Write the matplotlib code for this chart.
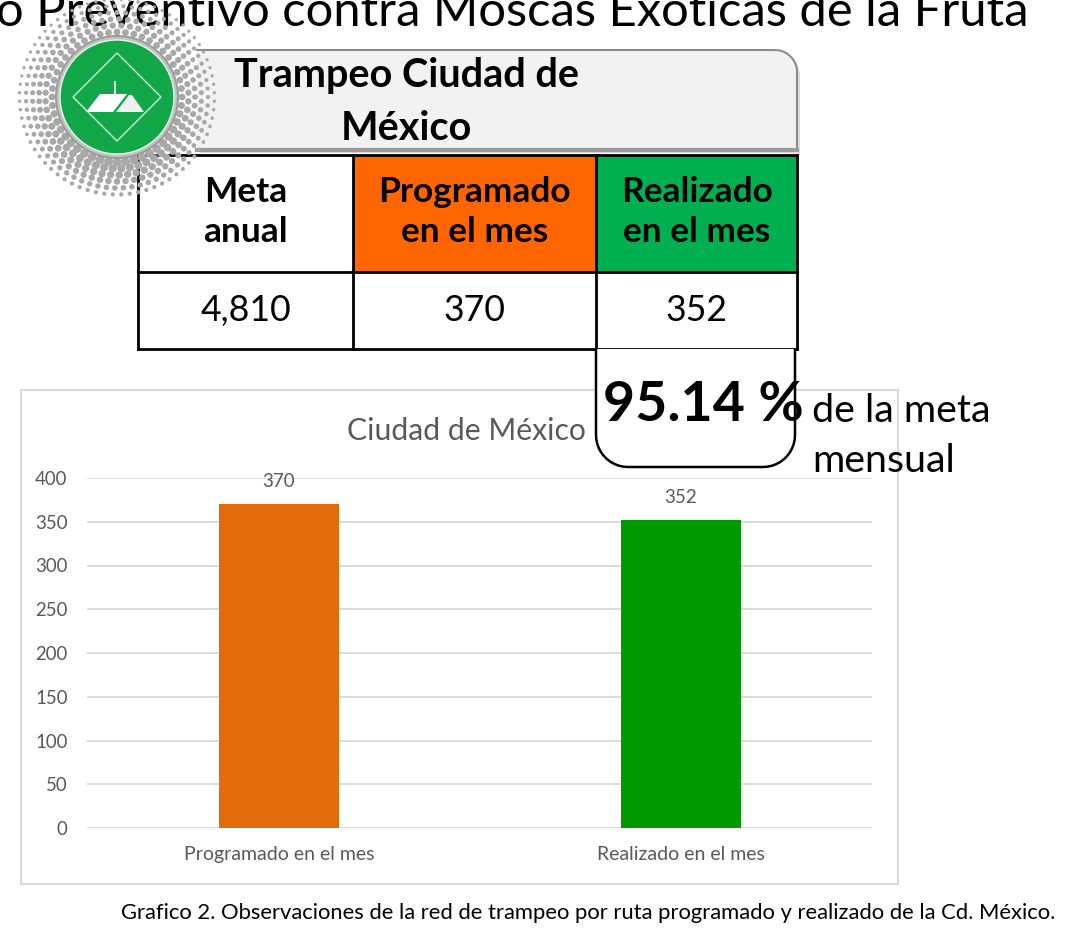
import numpy as np
import matplotlib
matplotlib.use("Agg")
import matplotlib.pyplot as plt
import matplotlib.patches as patches

plt.rcParams['font.family'] = ['Lato', 'DejaVu Sans']

# data
categories = ["Programado en el mes", "Realizado en el mes"]
values = [370, 352]
bar_colors = ["#e36c0a", "#009900"]
yticks = [0, 50, 100, 150, 200, 250, 300, 350, 400]

table_headers = ["Meta\nanual", "Programado\nen el mes", "Realizado\nen el mes"]
table_values = [4810, 370, 352]
header_colors = ["white", "#ff6600", "#00b050"]

page_title = "o Preventivo contra Moscas Exóticas de la Fruta"
box_title = "Trampeo Ciudad de\nMéxico"
chart_title = "Ciudad de México"
caption = "Grafico 2. Observaciones de la red de trampeo por ruta programado y realizado de la Cd. México."

W, H = 1082, 936
fig = plt.figure(figsize=(W / 100, H / 100), dpi=100)

# bar chart axes (pixel layout: x 87..872, y 0 at 828, 400 at 478)
ax = fig.add_axes([87 / W, 1 - 828 / H, 785 / W, (828 - 478) / H])
x = np.arange(len(categories))
ax.bar(x, values, width=0.2985, color=bar_colors, zorder=3)
for xi, v in zip(x, values):
    ax.annotate(str(v), (xi, v), xytext=(0, 10), textcoords="offset points",
                ha="center", va="bottom", fontsize=13.5, color="#595959")
ax.set_xlim(-0.4776, 1.475)
ax.set_ylim(0, 400)
ax.set_yticks(yticks)
ax.set_xticks(x)
ax.set_xticklabels(categories)
ax.tick_params(axis="y", length=0, pad=14, labelsize=13.4, labelcolor="#595959")
ax.tick_params(axis="x", length=0, pad=13, labelsize=14, labelcolor="#595959")
ax.grid(axis="y", color="#d9d9d9", linewidth=1.3, zorder=0)
for s in ax.spines.values():
    s.set_visible(False)
ax.patch.set_alpha(0)

# overlay in pixel coordinates
ov = fig.add_axes([0, 0, 1, 1])
ov.set_xlim(0, W)
ov.set_ylim(H, 0)
ov.axis("off")

# page title, clipped at the top like the source slide
ov.text(-4, 26, page_title, fontsize=35.3, ha="left", va="baseline", color="black")

# chart frame
ov.add_patch(patches.Rectangle((21, 390), 877, 494, fill=False, edgecolor="#d9d9d9", linewidth=1.5))
ov.text(466, 431, chart_title, fontsize=21.7, ha="center", va="center", color="#595959")

# header box with rounded top-right corner
r = 22
ang = np.linspace(np.pi / 2, 0, 12)
corner = np.column_stack([797 - r + r * np.cos(ang), 50 + r - r * np.sin(ang)])
verts = np.vstack([[[197, 150], [197, 50]], corner, [[797, 150], [197, 150]]])
ov.add_patch(patches.Polygon(verts + [3, 3], closed=True, facecolor="#c8c8c8", edgecolor="none", alpha=0.6))
ov.add_patch(patches.Polygon(verts, closed=True, facecolor="#f2f2f2", edgecolor="none"))
outline = np.vstack([[[197, 50]], corner, [[797, 150]]])
ov.plot(outline[:, 0], outline[:, 1], color="#8c8c8c", linewidth=1.5)
ov.plot([197, 797], [150, 150], color="#9a9a9a", linewidth=3)
ov.text(406, 102, box_title, fontsize=28.5, fontweight="bold", ha="center", va="center",
        linespacing=1.5, color="black")

# table
col_x = [138, 353, 596, 797]
row_y = [155, 272, 349]
for i in range(3):
    ov.add_patch(patches.Rectangle((col_x[i], row_y[0]), col_x[i + 1] - col_x[i], row_y[1] - row_y[0],
                                   facecolor=header_colors[i], edgecolor="none"))
    cx = (col_x[i] + col_x[i + 1]) / 2
    ov.text(cx, 212, table_headers[i], fontsize=25.4, fontweight="bold",
            ha="center", va="center", linespacing=1.33, color="black")
    ov.text(cx, (row_y[1] + row_y[2]) / 2, f"{table_values[i]:,}", fontsize=25.7,
            ha="center", va="center", color="black")
for yy in row_y:
    ov.plot([col_x[0], col_x[-1]], [yy, yy], color="black", linewidth=2, solid_capstyle="projecting")
for xx in col_x:
    ov.plot([xx, xx], [row_y[0], row_y[-1]], color="black", linewidth=2, solid_capstyle="projecting")

# percentage box with rounded bottom
rb = 32
a1 = np.linspace(0, np.pi / 2, 12)
br = np.column_stack([795 - rb + rb * np.cos(a1), 467 - rb + rb * np.sin(a1)])
a2 = np.linspace(np.pi / 2, np.pi, 12)
bl = np.column_stack([596 + rb + rb * np.cos(a2), 467 - rb + rb * np.sin(a2)])
pverts = np.vstack([[[795, 349]], br, bl, [[596, 349]]])
ov.add_patch(patches.Polygon(pverts, closed=False, facecolor="white", edgecolor="black", linewidth=1.8, zorder=5))
pct = values[1] / values[0] * 100
ov.text(703, 405, f"{pct:.2f} %", fontsize=40, fontweight="bold", ha="center", va="center",
        color="black", zorder=6)
ov.text(812, 436, "de la meta\nmensual", fontsize=28.4, ha="left", va="center", linespacing=1.45,
        color="black", zorder=6)

# caption
ov.text(588, 913, caption, fontsize=15.8, ha="center", va="center", color="black")

# logo
cx, cy = 117, 97
ring_r = np.arange(65, 104, 6.5)
for k, rr in enumerate(ring_r):
    n = int(2 * np.pi * rr / 8.5)
    th = np.linspace(0, 2 * np.pi, n, endpoint=False) + (k % 2) * np.pi / n
    px = cx + rr * np.cos(th)
    py = cy + rr * np.sin(th)
    size = (1 - k / len(ring_r)) * 22 + 2
    size = size * (1 + 0.7 * np.clip(np.sin(th), 0, 1))
    ov.scatter(px, py, s=size, color="#a8a8a8", edgecolors="none", zorder=7)
ov.add_patch(patches.Circle((cx, cy), 61, facecolor="#c4c4c4", edgecolor="#9c9c9c", linewidth=1.5, zorder=8))
ov.add_patch(patches.Circle((cx, cy), 57, facecolor="#12a84a", edgecolor="#e8f5ea", linewidth=1.0, zorder=9))
ov.add_patch(patches.Polygon([[cx, cy - 44], [cx + 44, cy], [cx, cy + 44], [cx - 44, cy]], closed=True,
                             fill=False, edgecolor="#c9ecd3", linewidth=1.0, zorder=10))
ov.add_patch(patches.Polygon([[86, 112], [100, 94], [127, 94], [113, 112]], closed=True,
                             facecolor="white", edgecolor="none", zorder=11))
ov.add_patch(patches.Polygon([[116, 112], [129, 95], [132, 95], [144, 112]], closed=True,
                             facecolor="#f0f0f0", edgecolor="none", zorder=11))
ov.plot([115, 115], [82, 94], color="white", linewidth=1.2, zorder=11)

fig.savefig("out.png", dpi=100)
